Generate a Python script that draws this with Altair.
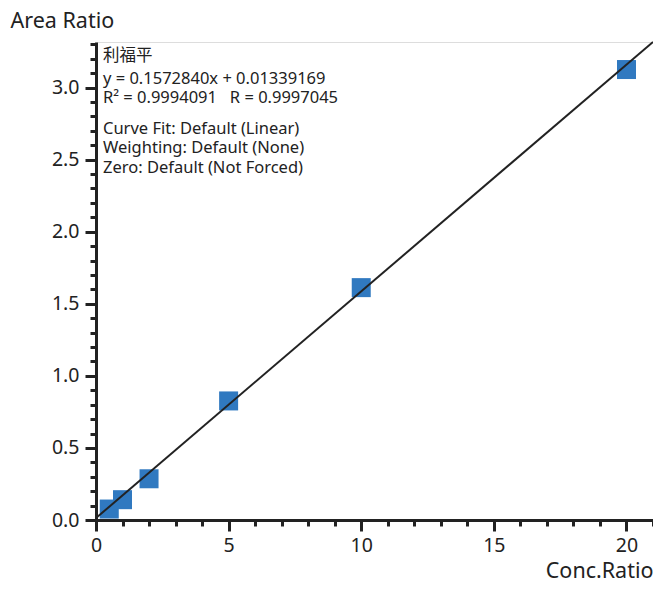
import altair as alt
import pandas as pd

# ---- data ----
conc_ratio = [0.5, 1, 2, 5, 10, 20]
area_ratio = [0.076, 0.141, 0.286, 0.826, 1.612, 3.125]
slope = 0.1572840
intercept = 0.01339169
r_squared = 0.9994091
r_value = 0.9997045
compound = "利福平"
fit_extent = [0, 21]
x_major = [0, 5, 10, 15, 20]
y_major = [0.0, 0.5, 1.0, 1.5, 2.0, 2.5, 3.0]
x_minor = list(range(0, 22))
y_minor = [i / 10 for i in range(0, 34)]
info_lines = [
    "Curve Fit: Default (Linear)",
    "Weighting: Default (None)",
    "Zero: Default (Not Forced)",
]

FONT = "'Noto Sans', 'Noto Sans CJK SC', sans-serif"
INK = "#222222"
W, H = 557, 478

pts = pd.DataFrame({"conc": conc_ratio, "area": area_ratio})
fit = pd.DataFrame({"conc": fit_extent})

xs = alt.Scale(domain=[0, 21], nice=False, zero=False)
ys = alt.Scale(domain=[0, 3.316], nice=False, zero=False)

major_common = dict(
    grid=False, domainWidth=3, domainColor=INK, tickColor=INK, tickWidth=3,
    tickSize=11, labelFontSize=19.5, labelColor=INK, labelFont=FONT,
    labelFlush=False, labelOverlap=False,
    titleFont=FONT, titleFontSize=21.5, titleFontWeight="normal", titleColor=INK,
)

points = alt.Chart(pts).mark_square(size=361, color="#3079c0", opacity=1).encode(
    x=alt.X("conc:Q", scale=xs, axis=alt.Axis(
        values=x_major, orient="bottom", title="Conc.Ratio", labelPadding=5,
        titleAlign="right", titleAnchor="end", titleX=W, titleY=57,
        titleBaseline="alphabetic", **major_common)),
    y=alt.Y("area:Q", scale=ys, axis=alt.Axis(
        values=y_major, orient="left", title="Area Ratio", format=".1f",
        labelPadding=6, titleAngle=0, titleAlign="left", titleX=-86, titleY=-15,
        titleBaseline="alphabetic", **major_common)),
)

minor_common = dict(grid=False, domain=False, labels=False, tickColor=INK,
                    tickWidth=3, tickSize=6, title=None)

line = alt.Chart(fit).transform_calculate(
    area=f"{slope} * datum.conc + {intercept}"
).mark_line(color=INK, strokeWidth=2).encode(
    x=alt.X("conc:Q", scale=xs, axis=alt.Axis(values=x_minor, orient="bottom", **minor_common)),
    y=alt.Y("area:Q", scale=ys, axis=alt.Axis(values=y_minor, orient="left", **minor_common)),
)

eq_line = f"y = {slope:.7f}x + {intercept:.8f}"
r_line = f"R² = {r_squared:.7f}\u00a0\u00a0\u00a0R = {r_value:.7f}"
top_lines = [compound, eq_line, r_line]

texts = []
for i, t in enumerate(top_lines):
    texts.append(alt.Chart(pd.DataFrame({"t": [t]})).mark_text(
        align="left", baseline="alphabetic", fontSize=16.5, font=FONT, color=INK
    ).encode(x=alt.value(7), y=alt.value([19, 42, 61][i]), text="t:N"))
for i, t in enumerate(info_lines):
    texts.append(alt.Chart(pd.DataFrame({"t": [t]})).mark_text(
        align="left", baseline="alphabetic", fontSize=16.5, font=FONT, color=INK
    ).encode(x=alt.value(7), y=alt.value([92, 111, 131][i]), text="t:N"))

chart = alt.layer(points, line, *texts).resolve_axis(x="independent", y="independent").properties(
    width=W, height=H,
    autosize=alt.AutoSizeParams(type="none"),
    padding={"left": 88, "top": 34, "right": 0, "bottom": 61},
).configure_view(stroke=None).configure(font=FONT)

chart.save("out.html", embed_options={"renderer": "svg", "actions": False})
